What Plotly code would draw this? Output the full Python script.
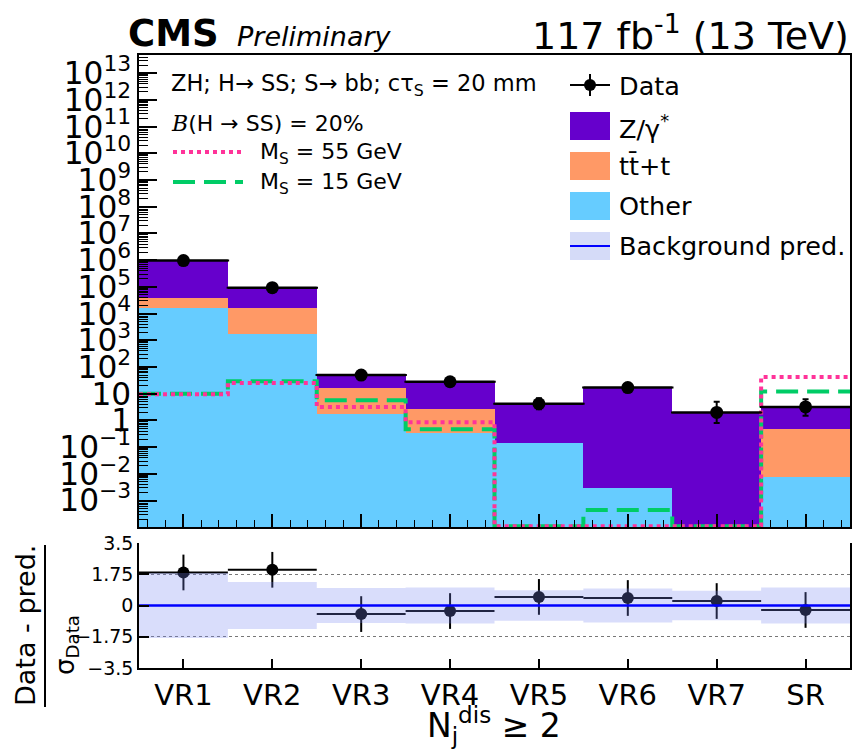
import numpy as np
import plotly.graph_objects as go

# ---------------- data ----------------
regions = ["VR1", "VR2", "VR3", "VR4", "VR5", "VR6", "VR7", "SR"]
other = [1.6e4, 1.7e3, 1.7, 0.33, 0.14, 0.0029, 0.0, 0.0074]
ttbar = [2.2e4, 1.43e4, 14.3, 2.27, 0.0, 0.0, 0.0, 0.49]
zgamma = [9.0e5, 7.4e4, 33.0, 26.4, 3.56, 16.0, 1.9, 2.6]
data = [9.6e5, 9.3e4, 50.0, 28.0, 4.2, 17.0, 2.0, 3.2]
data_err_up = [980.0, 305.0, 8.0, 6.3, 2.6, 5.2, 3.0, 3.0]
data_err_dn = [980.0, 305.0, 7.0, 5.3, 1.6, 4.1, 1.2, 1.7]
sig_m55 = [9.5, 25.0, 3.2, 0.85, 0.0, 0.0, 0.0, 42.0]
sig_m15 = [10.0, 29.0, 5.7, 0.47, 0.0, 4.4e-4, 0.0, 12.0]
pull = [1.85, 2.0, -0.48, -0.31, 0.48, 0.42, 0.25, -0.25]
pull_err = [1.0, 1.0, 1.0, 1.0, 1.0, 1.0, 1.0, 1.0]
pred_unc = [1.82, 1.32, 0.98, 1.01, 0.86, 0.95, 0.82, 1.01]
pred_pull = [0.0, 0.0, 0.0, 0.0, 0.0, 0.0, 0.0, 0.0]
pull_ticks = [-3.5, -1.75, 0, 1.75, 3.5]
pull_ticklabels = ["\u22123.5", "\u22121.75", "0", "1.75", "3.5"]

# ---------------- geometry helpers ----------------
W, H = 862, 749
ML, MR, MT, MB = 139, 12, 55, 81


def px(x):
    return (x - ML) / (W - ML - MR)


def py(y):
    return (H - MB - y) / (H - MT - MB)


FONT = "DejaVu Sans, Liberation Sans, Arial, sans-serif"
C_Z = "#6600cc"
C_TT = "#ff9966"
C_OTH = "#66ccff"
C_55 = "#ff3399"
C_15 = "#00cc66"
C_BAND = "rgba(120,132,240,0.28)"

n = len(regions)
centers = np.arange(n) + 0.5
edges = np.arange(n + 1)
floor = 1.1e-4


def step(v, lo=None):
    v = np.asarray(v, dtype=float)
    if lo is not None:
        v = np.maximum(v, lo)
    return np.append(v, v[-1])


fig = go.Figure()

# stacked backgrounds
for vals, col in [(other, C_OTH), (ttbar, C_TT), (zgamma, C_Z)]:
    fig.add_trace(go.Bar(x=centers, y=vals, width=1.0,
                         marker=dict(color=col, line=dict(width=0)),
                         xaxis="x", yaxis="y", hoverinfo="skip"))

# signals
fig.add_trace(go.Scatter(x=edges, y=step(sig_m15, floor), mode="lines",
                         line=dict(color=C_15, width=4, dash="22px,9px", shape="hv"),
                         xaxis="x", yaxis="y"))
fig.add_trace(go.Scatter(x=edges, y=step(sig_m55, floor), mode="lines",
                         line=dict(color=C_55, width=4, dash="dot", shape="hv"),
                         xaxis="x", yaxis="y"))

# data
fig.add_trace(go.Scatter(x=centers, y=data, mode="markers",
                         marker=dict(color="black", size=13),
                         error_y=dict(type="data", symmetric=False, array=data_err_up,
                                      arrayminus=data_err_dn, color="black", thickness=2, width=3),
                         error_x=dict(type="constant", value=0.5, color="black", thickness=2.5, width=1),
                         xaxis="x", yaxis="y"))

# ratio panel: points, band (on top, translucent), prediction line
fig.add_trace(go.Scatter(x=centers, y=pull, mode="markers",
                         marker=dict(color="black", size=12),
                         error_y=dict(type="data", array=pull_err, color="black", thickness=2, width=0),
                         error_x=dict(type="constant", value=0.5, color="black", thickness=2, width=0),
                         xaxis="x2", yaxis="y2"))
u = np.asarray(pred_unc, dtype=float)
band_x = np.concatenate([edges, edges[::-1]])
band_y = np.concatenate([np.append(u, u[-1]), -np.append(u[::-1], u[0])])
fig.add_trace(go.Scatter(x=band_x, y=band_y, mode="lines", fill="toself",
                         fillcolor=C_BAND, line=dict(width=0, shape="hv"),
                         xaxis="x2", yaxis="y2", hoverinfo="skip"))
fig.add_trace(go.Scatter(x=edges, y=step(pred_pull), mode="lines",
                         line=dict(color="#0000ff", width=2.5, shape="hv"),
                         xaxis="x2", yaxis="y2"))

axis_common = dict(showgrid=False, zeroline=False, linecolor="black", linewidth=1.5,
                   tickcolor="black", tickwidth=1.5, automargin=False)

fig.update_layout(
    width=W, height=H,
    margin=dict(l=ML, r=MR, t=MT, b=MB, autoexpand=False),
    showlegend=False, barmode="stack", bargap=0,
    plot_bgcolor="white", paper_bgcolor="white",
    font=dict(family=FONT, color="black"),
    xaxis=dict(domain=[0, 1], anchor="y", range=[0, n], showticklabels=False,
               ticks="inside", tickvals=centers, ticklen=13, showline=True, mirror=True,
               minor=dict(ticks="inside", ticklen=7, tick0=0.1, dtick=0.2, tickcolor="black",
                          tickwidth=1.2, showgrid=False),
               **axis_common),
    yaxis=dict(domain=[py(527), 1], anchor="x", type="log", range=[-3.99, 13.68], dtick=1,
               exponentformat="power", ticks="inside", ticklen=18, showline=True, mirror=True,
               tickfont=dict(size=25), ticklabelstandoff=1,
               minor=dict(ticks="inside", ticklen=9, dtick="D1", tickcolor="black",
                          tickwidth=1, showgrid=False),
               **axis_common),
    xaxis2=dict(domain=[0, 1], anchor="y2", range=[0, n], matches="x",
                tickvals=centers, ticktext=regions, ticks="inside", ticklen=9,
                tickfont=dict(size=29), showline=True, mirror=False,
                **axis_common),
    yaxis2=dict(domain=[0, py(543)], anchor="x2", range=[-3.5, 3.5],
                tickvals=pull_ticks, ticktext=pull_ticklabels, ticks="inside", ticklen=10,
                tickfont=dict(size=19), showline=True, mirror=True,
                showgrid=True, griddash="dot", gridcolor="#777777", gridwidth=1.2,
                zeroline=False, linecolor="black", linewidth=1.5, tickcolor="black", tickwidth=1.5,
                automargin=False),
)

shapes = []
ann = []


def text(x, y, t, size, xanchor="left", **kw):
    ann.append(dict(x=px(x), y=py(y), xref="paper", yref="paper", text=t, showarrow=False,
                    xanchor=xanchor, yanchor="middle", font=dict(size=size, family=FONT, color="black"),
                    **kw))


def line(x0, y0, x1, y1, color, width, dash="solid"):
    shapes.append(dict(type="line", xref="paper", yref="paper", x0=px(x0), y0=py(y0),
                       x1=px(x1), y1=py(y1), line=dict(color=color, width=width, dash=dash)))


def rect(x0, y0, x1, y1, color):
    shapes.append(dict(type="rect", xref="paper", yref="paper", x0=px(x0), y0=py(y0),
                       x1=px(x1), y1=py(y1), fillcolor=color, line=dict(width=0)))


# header
text(126, 33, "<b>CMS</b>", 37)
text(235, 36, "<i>Preliminary</i>", 27)
text(851, 33, "117 fb<sup>-1</sup> (13 TeV)", 38, xanchor="right")

# left info block
text(169, 85, "ZH; H\u2192 SS; S\u2192 bb; c\u03c4<sub>S</sub> = 20 mm", 22.5)
text(169, 124, "<span style=\"font-family:'DejaVu Serif';font-style:italic\">B</span>(H \u2192 SS) = 20%", 22)
line(173, 152, 243, 152, C_55, 4, "dot")
text(258, 153, "M<sub>S</sub> = 55 GeV", 22)
line(173, 182, 243, 182, C_15, 4, "22px,9px")
text(258, 183, "M<sub>S</sub> = 15 GeV", 22)

# right legend
line(570, 85, 610, 85, "black", 2)
line(590, 74, 590, 96, "black", 2)
shapes.append(dict(type="circle", xref="paper", yref="paper", x0=px(584), y0=py(91),
                   x1=px(596), y1=py(79), fillcolor="black", line=dict(width=0)))
text(617, 86, "Data", 25.5)
rect(570, 112, 610, 140, C_Z)
text(617, 127, "Z/\u03b3<sup>*</sup>", 25.5)
rect(570, 152, 610, 180, C_TT)
text(617, 166, "tt\u0304+t", 25.5)
rect(570, 192, 610, 220, C_OTH)
text(617, 206, "Other", 25.5)
rect(570, 232, 610, 260, "#d5dbf8")
line(570, 246, 610, 246, "#0000ff", 2)
text(617, 246, "Background pred.", 25.5)

# ratio axis title
text(25, 625, "Data - pred.", 27, xanchor="center", textangle=-90)
line(45, 545, 45, 707, "black", 2)
text(66, 645, "\u03c3<sub>Data</sub>", 26, xanchor="center", textangle=-90)

# x title
text(494, 725, "N<sub>j</sub><sup>dis</sup> \u2265 2", 33, xanchor="center")

fig.update_layout(shapes=shapes, annotations=ann)
fig.write_html("out.html", config={"displayModeBar": False},
               post_script="document.body.style.margin='0';document.body.style.overflow='hidden';")
